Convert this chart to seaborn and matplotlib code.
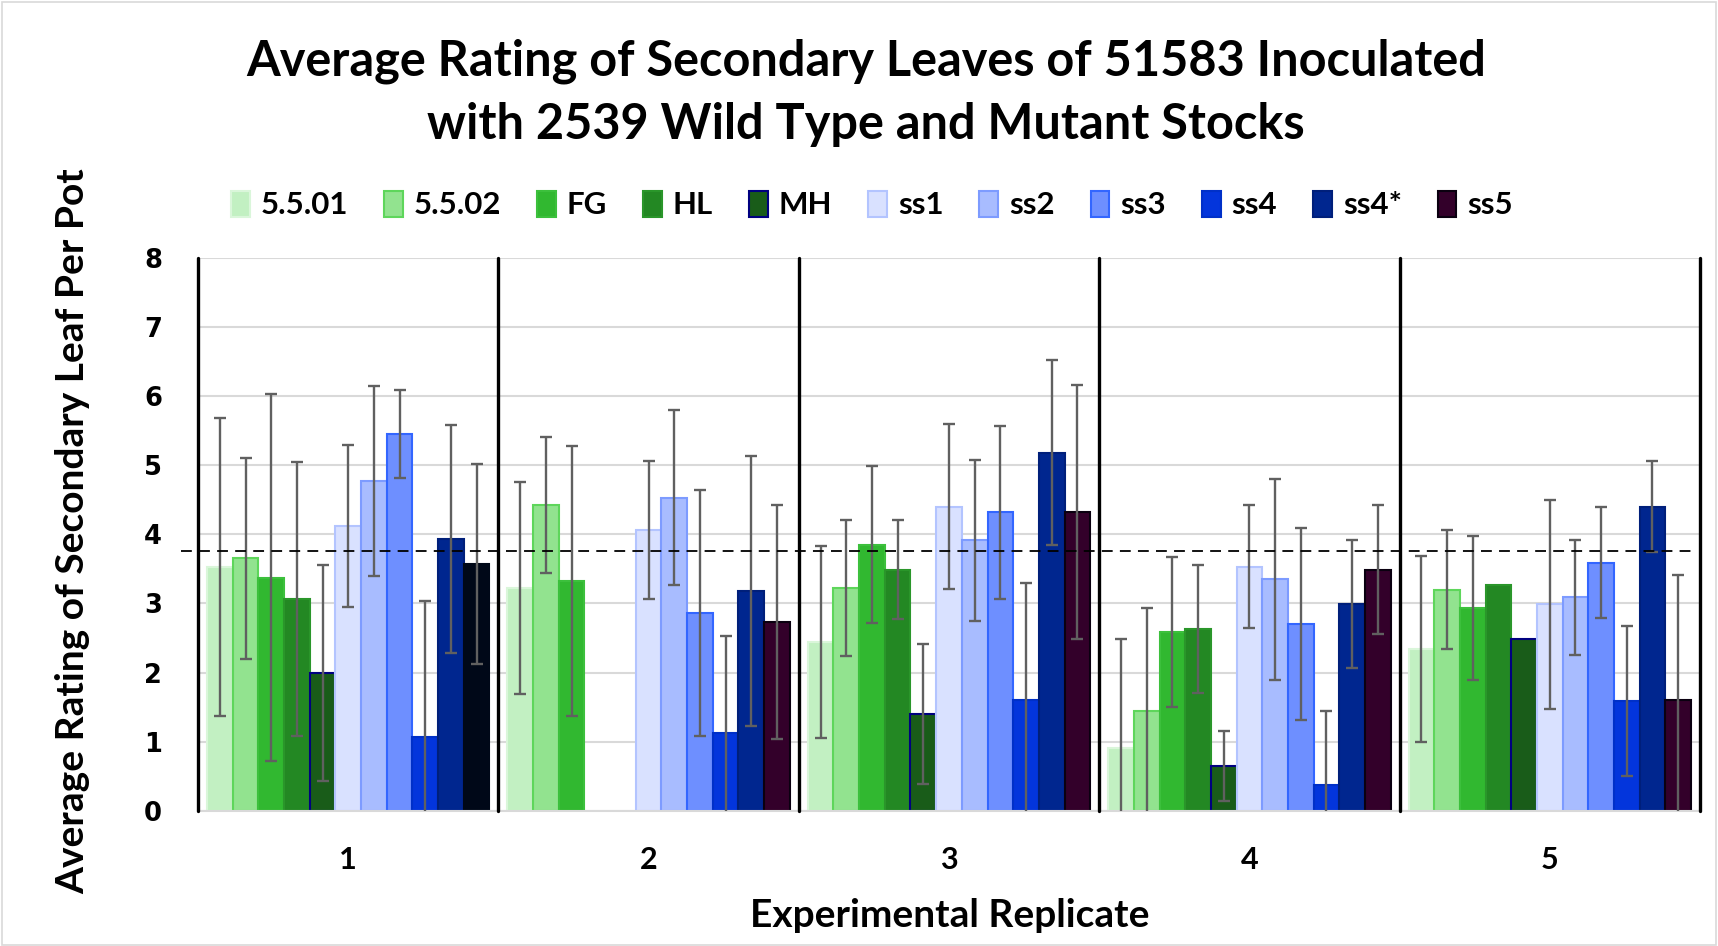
import numpy as np
import pandas as pd
import matplotlib
matplotlib.use("Agg")
import matplotlib.pyplot as plt
from matplotlib.patches import Patch
import seaborn as sns

# ---------------- data ----------------
replicates = ["1", "2", "3", "4", "5"]
stocks = ["5.5.01", "5.5.02", "FG", "HL", "MH", "ss1", "ss2", "ss3", "ss4", "ss4*", "ss5"]
nan = np.nan
means = {
    "5.5.01": [3.53, 3.22, 2.44, 0.91, 2.34],
    "5.5.02": [3.65, 4.42, 3.22, 1.44, 3.20],
    "FG":     [3.37, 3.33, 3.85, 2.59, 2.93],
    "HL":     [3.07, nan, 3.49, 2.63, 3.26],
    "MH":     [1.99, nan, 1.40, 0.65, 2.49],
    "ss1":    [4.12, 4.06, 4.40, 3.53, 2.99],
    "ss2":    [4.77, 4.53, 3.91, 3.35, 3.09],
    "ss3":    [5.45, 2.86, 4.32, 2.70, 3.59],
    "ss4":    [1.07, 1.13, 1.60, 0.37, 1.59],
    "ss4*":   [3.93, 3.18, 5.18, 2.99, 4.40],
    "ss5":    [3.57, 2.73, 4.32, 3.49, 1.61],
}
sds = {
    "5.5.01": [2.15, 1.53, 1.39, 1.58, 1.34],
    "5.5.02": [1.45, 0.98, 0.98, 1.50, 0.86],
    "FG":     [2.65, 1.95, 1.13, 1.08, 1.04],
    "HL":     [1.98, nan, 0.72, 0.93, nan],
    "MH":     [1.56, nan, 1.01, 0.50, nan],
    "ss1":    [1.17, 1.00, 1.19, 0.89, 1.51],
    "ss2":    [1.37, 1.27, 1.16, 1.45, 0.83],
    "ss3":    [0.63, 1.78, 1.25, 1.39, 0.80],
    "ss4":    [1.97, 1.40, 1.69, 1.07, 1.08],
    "ss4*":   [1.65, 1.95, 1.34, 0.92, 0.66],
    "ss5":    [1.44, 1.69, 1.83, 0.93, 1.80],
}
reference_line = 3.76
y_ticks = [0, 1, 2, 3, 4, 5, 6, 7, 8]

fills = ["#c2f0c2", "#92e38f", "#31b830", "#238823", "#195c19",
         "#d9e1ff", "#a8bcff", "#6e8fff", "#0335dc", "#00268f", "#33002a"]
edges = ["#daf6da", "#5ed65b", "#3cc03c", "#2a962a", "#000080",
         "#b3c4ff", "#7d9bff", "#3366ff", "#0030c8", "#001f7a", "#0a0010"]

rows = []
for s in stocks:
    for r, m, e in zip(replicates, means[s], sds[s]):
        rows.append({"rep": r, "stock": s, "val": m, "sd": e})
df = pd.DataFrame(rows)

# ---------------- plot ----------------
sns.set_style("white")
plt.rcParams["font.family"] = ["Lato", "DejaVu Sans"]
plt.rcParams["font.weight"] = "bold"
plt.rcParams["text.color"] = "black"
plt.rcParams["xtick.color"] = "black"
plt.rcParams["ytick.color"] = "black"
plt.rcParams["axes.labelcolor"] = "black"

fig = plt.figure(figsize=(17.18, 9.46), dpi=100)
ax_top, ax_bot = 257.5, 811
ax = fig.add_axes([198 / 1718, 1 - ax_bot / 946, (1700 - 198) / 1718, (ax_bot - ax_top) / 946])

sns.barplot(data=df, x="rep", y="val", hue="stock", hue_order=stocks, order=replicates,
            palette=fills, saturation=1, width=0.94, errorbar=None, ax=ax, legend=False,
            zorder=2)

bar_containers = list(ax.containers)
for i, cont in enumerate(bar_containers):
    s = stocks[i]
    for bar in cont:
        h = bar.get_height()
        if not np.isfinite(h) or h == 0:
            bar.set_visible(False)
            continue
        bar.set_edgecolor(edges[i])
        bar.set_linewidth(1.5)
        xc = bar.get_x() + bar.get_width() / 2
        k = int(round(xc))
        if s == "ss5" and k == 0:
            bar.set_facecolor("#000818")
            bar.set_edgecolor("#000818")
        e = sds[s][k]
        if np.isfinite(e):
            ax.errorbar(xc, h, yerr=e, color="#606060", lw=1.7, capsize=4.5,
                        capthick=1.7, zorder=3)

ax.set_ylim(0, 8)
ax.set_xlim(-0.5, 4.5)
ax.set_yticks(y_ticks)
ax.yaxis.grid(True, color="#d9d9d9", lw=1.5, zorder=0)
ax.set_axisbelow(True)
for x in np.arange(-0.5, 5.0, 1.0):
    ax.axvline(x, color="black", lw=2.4, zorder=4, clip_on=False)
ax.axhline(reference_line, xmin=-0.011, xmax=0.998, color="black", lw=1.3,
           ls=(0, (6, 4)), zorder=5, clip_on=False)

for sp in ["top", "right", "left"]:
    ax.spines[sp].set_visible(False)
ax.spines["bottom"].set_color("#d9d9d9")
ax.spines["bottom"].set_linewidth(1.5)
ax.tick_params(axis="both", length=0, colors="black")
ax.tick_params(axis="y", pad=26)
ax.tick_params(axis="x", pad=25)
for lbl in ax.get_yticklabels():
    lbl.set_fontfamily("DejaVu Sans")
    lbl.set_fontweight("bold")
    lbl.set_fontsize(18.5)
    lbl.set_color("black")
for lbl in ax.get_xticklabels():
    lbl.set_fontweight("bold")
    lbl.set_fontsize(22)
    lbl.set_color("black")
ax.set_xlabel("")
ax.set_ylabel("")

fig.text(950 / 1718, 1 - 915 / 946, "Experimental Replicate", ha="center", va="center",
         fontsize=28, fontweight="bold", color="black")
fig.text(73 / 1718, 1 - 531 / 946, "Average Rating of Secondary Leaf Per Pot", ha="center",
         va="center", rotation=90, fontsize=28, fontweight="bold", color="black")
fig.text(0.504, 1 - 93 / 946,
         "Average Rating of Secondary Leaves of 51583 Inoculated\nwith 2539 Wild Type and Mutant Stocks",
         ha="center", va="center", fontsize=35, fontweight="bold", linespacing=1.48,
         color="black")

handles = [Patch(facecolor=f, edgecolor=e, lw=1.5, label=s) for s, f, e in zip(stocks, fills, edges)]
leg = fig.legend(handles=handles, loc="center", bbox_to_anchor=(872 / 1718, 1 - 205 / 946), ncol=11,
                 frameon=False, handlelength=0.6, handleheight=0.9,
                 handletextpad=0.35, columnspacing=1.15, prop={"weight": "bold", "size": 22.5})
for t in leg.get_texts():
    t.set_color("black")

fig.patches.append(plt.Rectangle((0.001, 0.001), 0.998, 0.997, transform=fig.transFigure,
                                 fill=False, edgecolor="#d9d9d9", lw=1.2))

fig.savefig("out.png", dpi=100)
